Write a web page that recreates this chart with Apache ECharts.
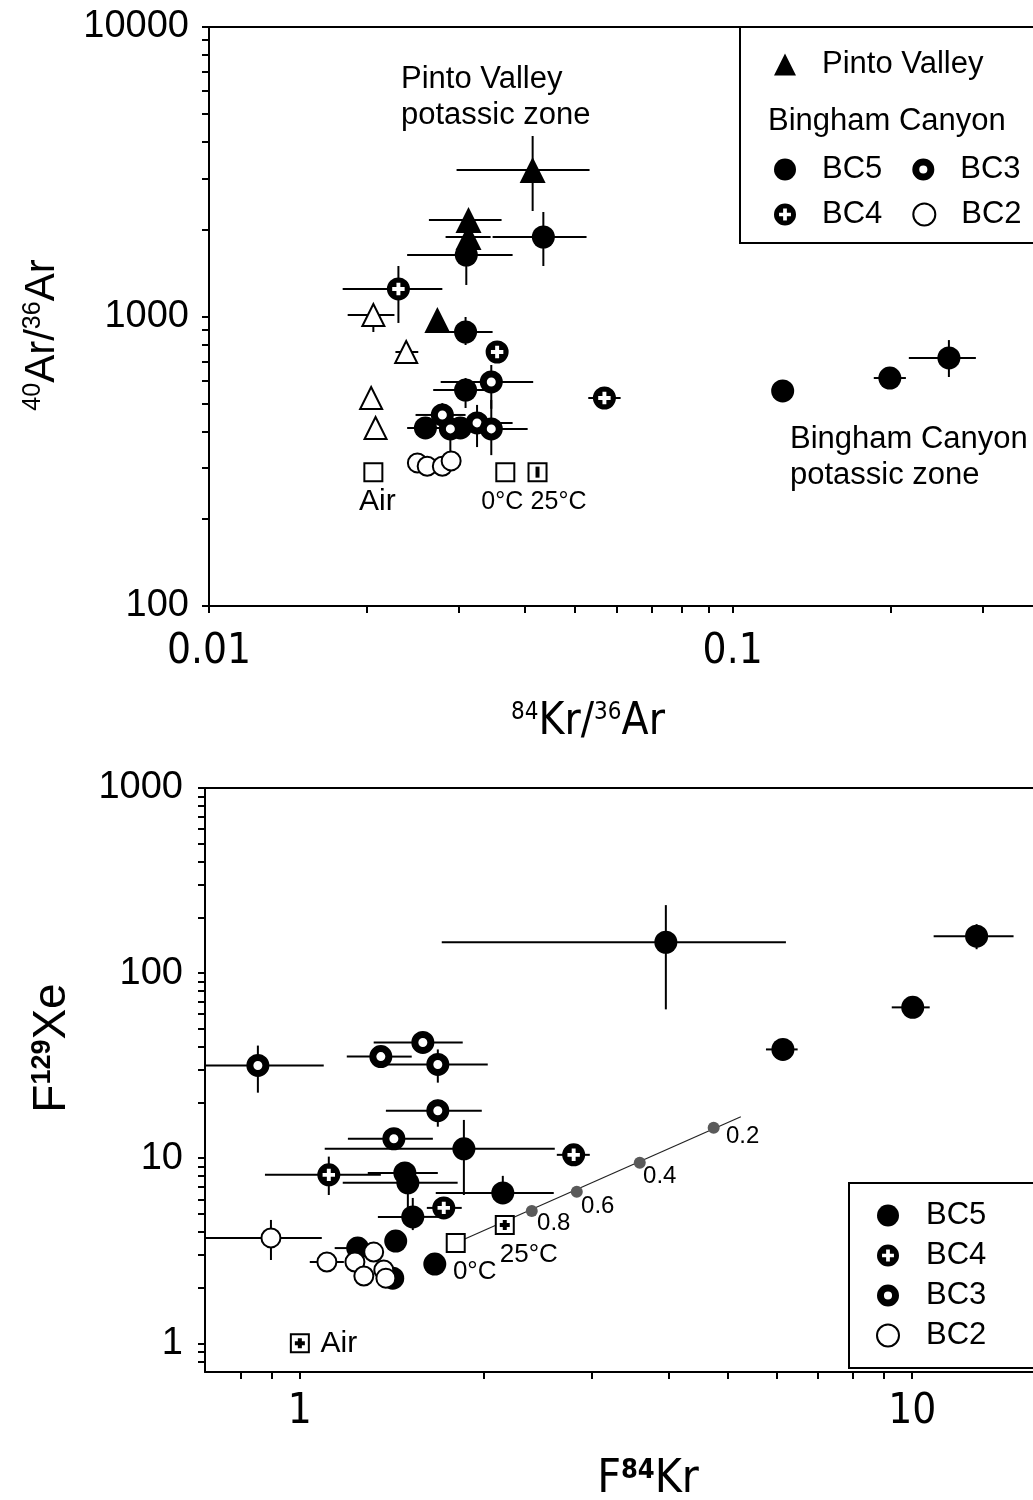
<!DOCTYPE html>
<html>
<head>
<meta charset="utf-8">
<title>Noble gas ratios</title>
<script src="https://cdn.jsdelivr.net/npm/echarts@6/dist/echarts.min.js"></script>
<style>
  html, body { margin: 0; padding: 0; background: #fff; }
  #chart { width: 1033px; height: 1500px; }
</style>
</head>
<body>
<div id="chart"></div>
<script>
// rows: [x, y, xLow, xHigh, yLow, yHigh] -- null means no bar on that side

// ---- upper panel: 84Kr/36Ar vs 40Ar/36Ar ----
const pintoFilled = [
  [0.0415, 3207, 0.0297, 0.0533, 2314, 4203],
  [0.0313, 2154, 0.0263, 0.0362, null, null],
  [0.0313, 1882, 0.0283, 0.0345, null, null],
  [0.0273, 972, null, null, null, null],
];
const pintoOpen = [
  [0.0206, 1012, 0.0184, 0.0226, 884, null],
  [0.0238, 754, 0.0227, 0.0251, null, null],
  [0.0204, 523, null, null, null, null],
  [0.0208, 412, null, null, null, null],
];
const bc5Top = [
  [0.0310, 1631, 0.0239, 0.0380, 1285, null],
  [0.0435, 1882, 0.0348, 0.0526, 1494, 2296],
  [0.0309, 884, 0.0274, 0.0348, 797, 996],
  [0.0309, 557, 0.0268, 0.0355, 483, 613],
  [0.0259, 412, 0.0239, 0.0280, null, null],
  [0.0302, 412, null, null, null, null],
  [0.1246, 553, null, null, null, null],
  [0.1996, 613, 0.1860, 0.2142, null, null],
  [0.2588, 719, 0.2170, 0.2914, 618, 829],
];
const bc4Top = [
  [0.0230, 1245, 0.0180, 0.0279, 950, 1494],
  [0.0355, 754, null, null, null, null],
  [0.0569, 523, 0.0530, 0.0611, null, null],
];
const bc3Top = [
  [0.0346, 594, 0.0277, 0.0416, 480, 680],
  [0.0279, 457, 0.0248, 0.0309, null, 502],
  [0.0289, 409, null, null, 340, null],
  [0.0325, 429, 0.0302, 0.0380, 354, 495],
  [0.0346, 409, 0.0320, 0.0406, 332, 515],
];
const bc2Top = [[0.0250, 312], [0.0261, 304], [0.0279, 304], [0.0290, 317]];
const refTop = [[0.0206, 290, 'Air'], [0.0368, 290, '0°C'], [0.0424, 290, '25°C']];

// ---- lower panel: F84Kr vs F129Xe ----
const bc5Bot = [
  [3.96, 146.8, 1.705, 6.22, 63.7, 233],
  [1.853, 11.24, 1.098, 2.608, 6.33, 16.1],
  [1.484, 8.33, 1.291, 1.68, null, null],
  [1.501, 7.36, 1.175, 1.81, 5.25, null],
  [2.145, 6.49, 1.667, 2.598, 5.73, 8.03],
  [1.529, 4.82, 1.341, 1.699, 4.09, 6.10],
  [1.434, 3.57, null, null, null, null],
  [1.243, 3.27, 1.14, 1.296, null, null],
  [1.418, 2.25, null, null, null, null],
  [1.661, 2.68, null, null, null, null],
  [6.15, 38.7, 5.77, 6.50, null, null],
  [10.02, 65.3, 9.26, 10.68, null, null],
  [12.74, 158.2, 10.84, 14.64, 134.6, 183.8],
];
const bc4Bot = [
  [2.80, 10.43, 2.628, 2.975, null, null],
  [1.115, 8.13, 0.877, 1.356, 6.33, 10.2],
  [1.718, 5.39, 1.612, 1.838, null, null],
];
const bc3Bot = [
  [0.854, 31.7, 0.7, 1.094, 22.6, 40.6],
  [1.356, 35.4, 1.193, 1.523, null, null],
  [1.588, 42.2, 1.32, 1.845, null, null],
  [1.68, 32.1, 1.392, 2.027, 25.6, 38.7],
  [1.68, 18.06, 1.382, 1.982, 14.8, 20.7],
  [1.424, 12.74, 1.198, 1.649, null, null],
];
const bc2Bot = [
  [0.897, 3.71, 0.7, 1.086, 2.82, 4.64],
  [1.107, 2.75, 1.038, 1.18, null, null],
  [1.23, 2.75, null, null, null, null],
  [1.32, 3.11, null, null, null, null],
  [1.272, 2.31, null, null, null, null],
  [1.371, 2.49, null, null, null, null],
  [1.382, 2.25, null, null, null, null],
];
const refBot = [[1.0, 1.0, 'Air'], [1.797, 3.48, '0°C'], [2.161, 4.36, '25°C']];
const mixLine = [[1.797, 3.48], [5.25, 16.76]];
const mixPoints = [[2.392, 5.19, '0.8'], [2.833, 6.58, '0.6'], [3.59, 9.44, '0.4'], [4.74, 14.61, '0.2']];

// ticks
const topXTicks = [0.01, 0.02, 0.03, 0.04, 0.05, 0.06, 0.07, 0.08, 0.09, 0.1, 0.2, 0.3];
const topXLabels = [0.01, 0.1];
const topYTicks = [100, 200, 300, 400, 500, 600, 700, 800, 900, 1000, 2000, 3000, 4000, 5000, 6000, 7000, 8000, 9000, 10000];
const topYLabels = [100, 1000, 10000];
const botXTicks = [0.8, 0.9, 1, 2, 3, 4, 5, 6, 7, 8, 9, 10];
const botXLabels = [1, 10];
const botYTicks = [0.8, 0.9, 1, 2, 3, 4, 5, 6, 7, 8, 9, 10, 20, 30, 40, 50, 60, 70, 80, 90, 100, 200, 300, 400, 500, 600, 700, 800, 900, 1000];
const botYLabels = [1, 10, 100, 1000];

// label nudges (layout only)
const refTopOffset = [[4, 30], [-3, 30], [21, 30]];
const refBotOffset = [[39, 0], [19, 29], [24, 30]];
const mixOffset = [[22, 12], [21, 15], [20, 14], [29, 9]];

const FONT = "'Liberation Sans', Arial, sans-serif";
const NARROW = "'Liberation Sans Narrow', 'Arial Narrow', 'DejaVu Sans Condensed', sans-serif";

const ringPath = 'path://M10,0A10,10 0 1,1 10,20A10,10 0 1,1 10,0Z M10,6.3A3.7,3.7 0 1,0 10,13.7A3.7,3.7 0 1,0 10,6.3Z';
const plusHolePath = 'path://M10,0A10,10 0 1,1 10,20A10,10 0 1,1 10,0Z M8.3,4.6L8.3,8.3L4.6,8.3L4.6,11.7L8.3,11.7L8.3,15.4L11.7,15.4L11.7,11.7L15.4,11.7L15.4,8.3L11.7,8.3L11.7,4.6Z';
const plusPath = 'path://M3,0H7V3H10V7H7V10H3V7H0V3H3Z';

let myChart = echarts.init(document.getElementById('chart'));

function xyOf(rows) {
  return rows.map((r) => [r[0], r[1]]);
}
function withBars(rows) {
  return rows.filter((r) => r.length > 2 && (r[2] != null || r[3] != null || r[4] != null || r[5] != null));
}

function errorBars(params, api) {
  let x = api.value(0);
  let y = api.value(1);
  let c = api.coord([x, y]);
  let st = { stroke: '#000', lineWidth: 2 };
  let kids = [];
  let xl = api.value(2), xh = api.value(3), yl = api.value(4), yh = api.value(5);
  if (!isNaN(xl)) {
    let p = api.coord([xl, y]);
    kids.push({ type: 'line', shape: { x1: p[0], y1: c[1], x2: c[0], y2: c[1] }, style: st });
  }
  if (!isNaN(xh)) {
    let p = api.coord([xh, y]);
    kids.push({ type: 'line', shape: { x1: c[0], y1: c[1], x2: p[0], y2: c[1] }, style: st });
  }
  if (!isNaN(yl)) {
    let p = api.coord([x, yl]);
    kids.push({ type: 'line', shape: { x1: c[0], y1: c[1], x2: c[0], y2: p[1] }, style: st });
  }
  if (!isNaN(yh)) {
    let p = api.coord([x, yh]);
    kids.push({ type: 'line', shape: { x1: c[0], y1: p[1], x2: c[0], y2: c[1] }, style: st });
  }
  return { type: 'group', children: kids };
}

function logAxis(gridIndex, position, min, max, ticks, labels, font, size, margin) {
  return {
    type: 'log',
    logBase: 10,
    gridIndex: gridIndex,
    position: position,
    min: min,
    max: max,
    axisLine: { show: true, onZero: false, lineStyle: { color: '#000', width: 2 } },
    axisTick: { show: true, inside: false, length: 7, customValues: ticks, lineStyle: { color: '#000', width: 2 } },
    axisLabel: {
      show: true,
      customValues: labels,
      color: '#000',
      fontFamily: font,
      fontSize: size,
      margin: margin,
      formatter: (v) => String(v),
    },
    splitLine: { show: false },
    minorTick: { show: false },
  };
}
function borderAxis(gridIndex) {
  return {
    type: 'value',
    gridIndex: gridIndex,
    position: 'top',
    axisLine: { show: true, onZero: false, lineStyle: { color: '#000', width: 2 } },
    axisTick: { show: false },
    axisLabel: { show: false },
    splitLine: { show: false },
  };
}

function errSeries(xi, yi, rows) {
  return {
    type: 'custom',
    xAxisIndex: xi,
    yAxisIndex: yi,
    dimensions: ['x', 'y', 'xl', 'xh', 'yl', 'yh'],
    encode: { x: 0, y: 1 },
    renderItem: errorBars,
    data: rows,
    silent: true,
    z: 1,
  };
}
function markerSeries(name, xi, yi, rows, symbol, size, itemStyle) {
  return {
    name: name,
    type: 'scatter',
    xAxisIndex: xi,
    yAxisIndex: yi,
    symbol: symbol,
    symbolSize: size,
    symbolKeepAspect: true,
    itemStyle: itemStyle,
    data: xyOf(rows),
    z: 3,
    emphasis: { disabled: true },
  };
}

const black = { color: '#000', opacity: 1 };
const ringStyle = { color: '#fff', borderColor: '#000', borderWidth: 7, opacity: 1 };
const openStyle = { color: '#fff', borderColor: '#000', borderWidth: 2, opacity: 1 };

function panelSeries(xi, yi, p) {
  let list = [errSeries(xi, yi, p.bars)];
  if (p.mix) {
    list.push({
      type: 'line', xAxisIndex: xi, yAxisIndex: yi, data: p.mix, symbol: 'none',
      lineStyle: { color: '#222', width: 1.2 }, z: 1, silent: true,
    });
    list.push({
      type: 'scatter', xAxisIndex: xi, yAxisIndex: yi, symbol: 'circle', symbolSize: 12,
      itemStyle: { color: '#5a5a5a', opacity: 1 }, z: 2, silent: true,
      data: p.mixPts.map((r, i) => ({
        value: r,
        label: { show: true, position: 'inside', offset: mixOffset[i], formatter: (q) => q.value[2], color: '#000', fontSize: 24, fontFamily: FONT },
      })),
    });
  }
  if (p.pintoOpen) list.push(markerSeries('', xi, yi, p.pintoOpen, 'triangle', 22, openStyle));
  if (p.pinto) list.push(markerSeries('Pinto Valley', xi, yi, p.pinto, 'triangle', 26, black));
  list.push(markerSeries('BC5', xi, yi, p.bc5, 'circle', 23, black));
  list.push(markerSeries('BC2', xi, yi, p.bc2, 'circle', 19, openStyle));
  list.push(markerSeries('BC3', xi, yi, p.bc3, 'circle', 16, ringStyle));
  list.push(markerSeries('', xi, yi, p.bc4, 'circle', 20, { color: '#fff', opacity: 1 }));
  list.push(markerSeries('BC4', xi, yi, p.bc4, plusHolePath, 23, black));
  // reference squares (air, 0 degC, 25 degC)
  list.push({
    type: 'scatter', xAxisIndex: xi, yAxisIndex: yi, symbol: 'rect', symbolSize: 18,
    itemStyle: openStyle, z: 3, silent: true,
    data: p.ref.map((r, i) => ({
      value: r,
      label: {
        show: true, position: 'inside', offset: p.refOffset[i], formatter: (q) => q.value[2],
        color: '#000', fontFamily: FONT, fontSize: r[2] === 'Air' ? 30 : p.refFont,
      },
    })),
  });
  list.push({
    type: 'scatter', xAxisIndex: xi, yAxisIndex: yi, z: 4, silent: true,
    symbol: p.refInner, symbolSize: p.refInnerSize, symbolKeepAspect: false,
    itemStyle: black,
    data: p.refInnerIdx.map((i) => [p.ref[i][0], p.ref[i][1]]),
  });
  return list;
}

const topSeries = panelSeries(0, 0, {
  bars: withBars([].concat(pintoFilled, pintoOpen, bc5Top, bc4Top, bc3Top)),
  pinto: pintoFilled, pintoOpen: pintoOpen,
  bc5: bc5Top, bc4: bc4Top, bc3: bc3Top, bc2: bc2Top,
  ref: refTop, refOffset: refTopOffset, refFont: 25,
  refInner: 'rect', refInnerSize: [4, 11], refInnerIdx: [2],
});
const botSeries = panelSeries(2, 1, {
  bars: withBars([].concat(bc5Bot, bc4Bot, bc3Bot, bc2Bot)),
  bc5: bc5Bot, bc4: bc4Bot, bc3: bc3Bot, bc2: bc2Bot,
  mix: mixLine, mixPts: mixPoints,
  ref: refBot, refOffset: refBotOffset, refFont: 26,
  refInner: plusPath, refInnerSize: 10, refInnerIdx: [0, 2],
});

const legendIcons = {
  'Pinto Valley': { name: 'Pinto Valley', icon: 'triangle' },
  BC5: { name: 'BC5', icon: 'circle' },
  BC3: { name: 'BC3', icon: ringPath, itemStyle: { color: '#000', borderWidth: 0 } },
  BC4: { name: 'BC4', icon: plusHolePath, itemStyle: { color: '#000', borderWidth: 0 } },
  BC2: { name: 'BC2', icon: 'circle', itemStyle: { color: '#fff', borderColor: '#000', borderWidth: 2 } },
};
function legendRow(names, left, top, gap, pad, orient) {
  return {
    orient: orient || 'horizontal',
    left: left,
    top: top,
    itemWidth: 22,
    itemHeight: 22,
    itemGap: gap,
    padding: 0,
    selectedMode: false,
    textStyle: { color: '#000', fontSize: 31, fontFamily: FONT, padding: [0, 0, 0, pad] },
    data: names.map((n) => legendIcons[n]),
  };
}

function supTitle(x, y, rot, parts, bigFont, supFont, bigSize, supSize, supWeight) {
  return {
    type: 'text',
    x: x,
    y: y,
    rotation: rot,
    silent: true,
    style: {
      text: parts,
      align: 'center',
      verticalAlign: 'middle',
      fill: '#000',
      rich: {
        b: { fontFamily: bigFont, fontSize: bigSize, lineHeight: bigSize, fill: '#000', verticalAlign: 'bottom' },
        s: { fontFamily: supFont, fontSize: supSize, lineHeight: bigSize, fill: '#000', verticalAlign: 'top', fontWeight: supWeight },
      },
    },
  };
}
function note(x, y, txt) {
  return {
    type: 'text', x: x, y: y, silent: true,
    style: { text: txt, fill: '#000', fontFamily: FONT, fontSize: 31, lineHeight: 36, align: 'left', verticalAlign: 'middle' },
  };
}

const option = {
  animation: false,
  backgroundColor: '#fff',
  grid: [
    { left: 209, top: 27, right: 0, bottom: 894, containLabel: false, outerBoundsMode: 'none' },
    { left: 205, top: 788, right: 0, bottom: 128, containLabel: false, outerBoundsMode: 'none' },
  ],
  xAxis: [
    logAxis(0, 'bottom', 0.01, 0.3746, topXTicks, topXLabels, NARROW, 42, 25),
    borderAxis(0),
    logAxis(1, 'bottom', 0.7, 15.75, botXTicks, botXLabels, NARROW, 42, 19),
    borderAxis(1),
  ],
  yAxis: [
    logAxis(0, 'left', 100, 10000, topYTicks, topYLabels, FONT, 38, 20),
    logAxis(1, 'left', 0.7, 1000, botYTicks, botYLabels, FONT, 38, 22),
  ],
  legend: [
    legendRow(['Pinto Valley'], 774, 49, 10, 21),
    legendRow(['BC5', 'BC3'], 774, 154, 30, 21),
    legendRow(['BC4', 'BC2'], 774, 199, 30, 21),
    legendRow(['BC5', 'BC4', 'BC3', 'BC2'], 876, 1200, 9, 22, 'vertical'),
  ],
  graphic: [
    { type: 'rect', shape: { x: 740, y: 27, width: 330, height: 216 }, style: { fill: 'none', stroke: '#000', lineWidth: 2 }, silent: true },
    { type: 'rect', shape: { x: 849, y: 1183, width: 220, height: 185 }, style: { fill: 'none', stroke: '#000', lineWidth: 2 }, silent: true },
    note(768, 121, 'Bingham Canyon'),
    note(401, 97, 'Pinto Valley\npotassic zone'),
    note(790, 457, 'Bingham Canyon\npotassic zone'),
    supTitle(588, 723, 0, '{s|84}{b|Kr/}{s|36}{b|Ar}', NARROW, NARROW, 44, 24, 'normal'),
    supTitle(648, 1480, 0, '{b|F}{s|84}{b|Kr}', NARROW, NARROW, 46, 27, 'bold'),
    supTitle(42, 335, Math.PI / 2, '{s|40}{b|Ar/}{s|36}{b|Ar}', FONT, FONT, 42, 25, 'normal'),
    supTitle(52, 1048, Math.PI / 2, '{b|F}{s|129}{b|Xe}', FONT, FONT, 46, 27, 'bold'),
  ],
  series: topSeries.concat(botSeries),
};

myChart.setOption(option, true);
window.addEventListener('resize', () => {
  myChart.resize();
});
</script>
</body>
</html>
